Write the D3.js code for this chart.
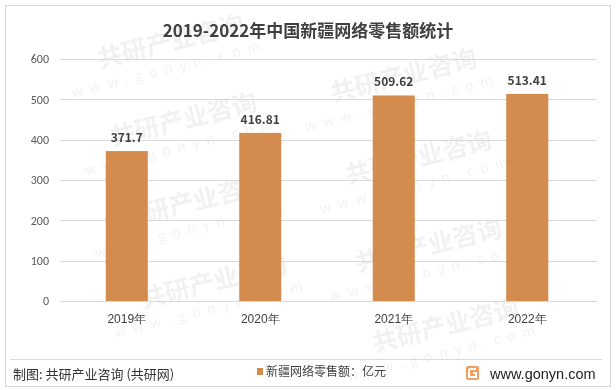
<!DOCTYPE html>
<html><head><meta charset="utf-8">
<script src="https://cdn.jsdelivr.net/npm/d3@7"></script>
<style>body{margin:0;background:#fff;}svg{display:block;font-family:"Microsoft YaHei","Noto Sans CJK SC",sans-serif;}</style>
</head><body><svg id="c" width="616" height="390"></svg>
<script>
const categories = ["2019年","2020年","2021年","2022年"];
const values = [371.7, 416.81, 509.62, 513.41];
const valueLabels = ["371.7","416.81","509.62","513.41"];
const yTicks = [0,100,200,300,400,500,600];
const title = "2019-2022年中国新疆网络零售额统计";
const seriesName = "新疆网络零售额：亿元";
const watermarkName = "共研产业咨询";
const watermarkUrl = "www.gonyn.com";

const svg = d3.select("#c");
svg.append("rect").attr("x",5.5).attr("y",5.5).attr("width",605).attr("height",381)
  .attr("fill","#fff").attr("stroke","#d9d9d9");

// faint watermarks (kept fully inside the frame)
const wm = svg.append("g").attr("fill","#000").attr("opacity",0.055);
[[165,52],[178,130],[188,212],[208,292],[398,86],[413,168],[423,256],[440,336]].forEach(([cx,cy])=>{
  const g = wm.append("g").attr("transform",`translate(${cx},${cy}) rotate(-14)`);
  g.append("text").attr("x",8).attr("font-size",25).attr("font-weight","bold").attr("text-anchor","middle").text(watermarkName);
  g.append("text").attr("y",22).attr("font-size",14).attr("text-anchor","middle").attr("letter-spacing",7).text(watermarkUrl);
});

const x = d3.scaleBand().domain(categories).range([60,594]).paddingInner(0.685).paddingOuter(0.3425);
const y = d3.scaleLinear().domain([0,600]).range([301,59]);

const grid = svg.append("g");
grid.selectAll("line").data(yTicks).join("line")
  .attr("x1",60).attr("x2",597).attr("y1",d=>Math.round(y(d))+0.5).attr("y2",d=>Math.round(y(d))+0.5)
  .attr("stroke","#d9d9d9");

const yAxis = d3.axisLeft(y).tickValues(yTicks).tickSize(0).tickPadding(0);
const ya = svg.append("g").attr("transform","translate(49,0)").call(yAxis);
ya.select(".domain").remove();
ya.selectAll("text").attr("font-size",12).attr("fill","#595959").attr("font-family","Calibri,'Liberation Sans','Noto Sans CJK SC',sans-serif");

svg.append("g").selectAll("rect").data(values).join("rect")
  .attr("x",(d,i)=>x(categories[i])).attr("width",x.bandwidth())
  .attr("y",d=>y(d)).attr("height",d=>y(0)-y(d)).attr("fill","#D48C4E");

svg.append("g").selectAll("text").data(values).join("text")
  .attr("x",(d,i)=>x(categories[i])+x.bandwidth()/2).attr("y",d=>y(d)-9)
  .attr("text-anchor","middle").attr("font-size",12).attr("font-weight","bold").attr("fill","#404040")
  .text((d,i)=>valueLabels[i]);

const xAxis = d3.axisBottom(x).tickSize(0).tickPadding(0);
const xa = svg.append("g").attr("transform","translate(0,314)").call(xAxis);
xa.select(".domain").remove();
xa.selectAll("text").attr("font-size",12).attr("fill","#404040").attr("dy","0.71em");

svg.append("text").attr("x",308).attr("y",37).attr("text-anchor","middle")
  .attr("font-size",17).attr("font-weight","bold").attr("fill","#404040").text(title);

svg.append("line").attr("x1",10).attr("x2",602).attr("y1",359.5).attr("y2",359.5).attr("stroke","#d9d9d9");

svg.append("text").attr("x",13).attr("y",379).attr("font-size",13).attr("fill","#333").text("制图: 共研产业咨询 (共研网)");

svg.append("rect").attr("x",257).attr("y",368).attr("width",6).attr("height",7).attr("fill","#D48C4E");
svg.append("text").attr("x",266).attr("y",376).attr("font-size",12).attr("fill","#404040").text(seriesName);

// logo
const lg = svg.append("g").attr("transform","translate(466,366)");
lg.append("rect").attr("width",13).attr("height",14).attr("rx",2).attr("fill","#f0a060");
lg.append("path").attr("d","M3,3 H10 M3,3 V11 H10 V7 H7").attr("stroke","#fff").attr("stroke-width",2).attr("fill","none");
svg.append("text").attr("x",490).attr("y",379).attr("font-size",14.5).attr("fill","#222")
  .attr("font-family","'Liberation Sans',Arial,sans-serif").text("www.gonyn.com");
</script></body></html>
